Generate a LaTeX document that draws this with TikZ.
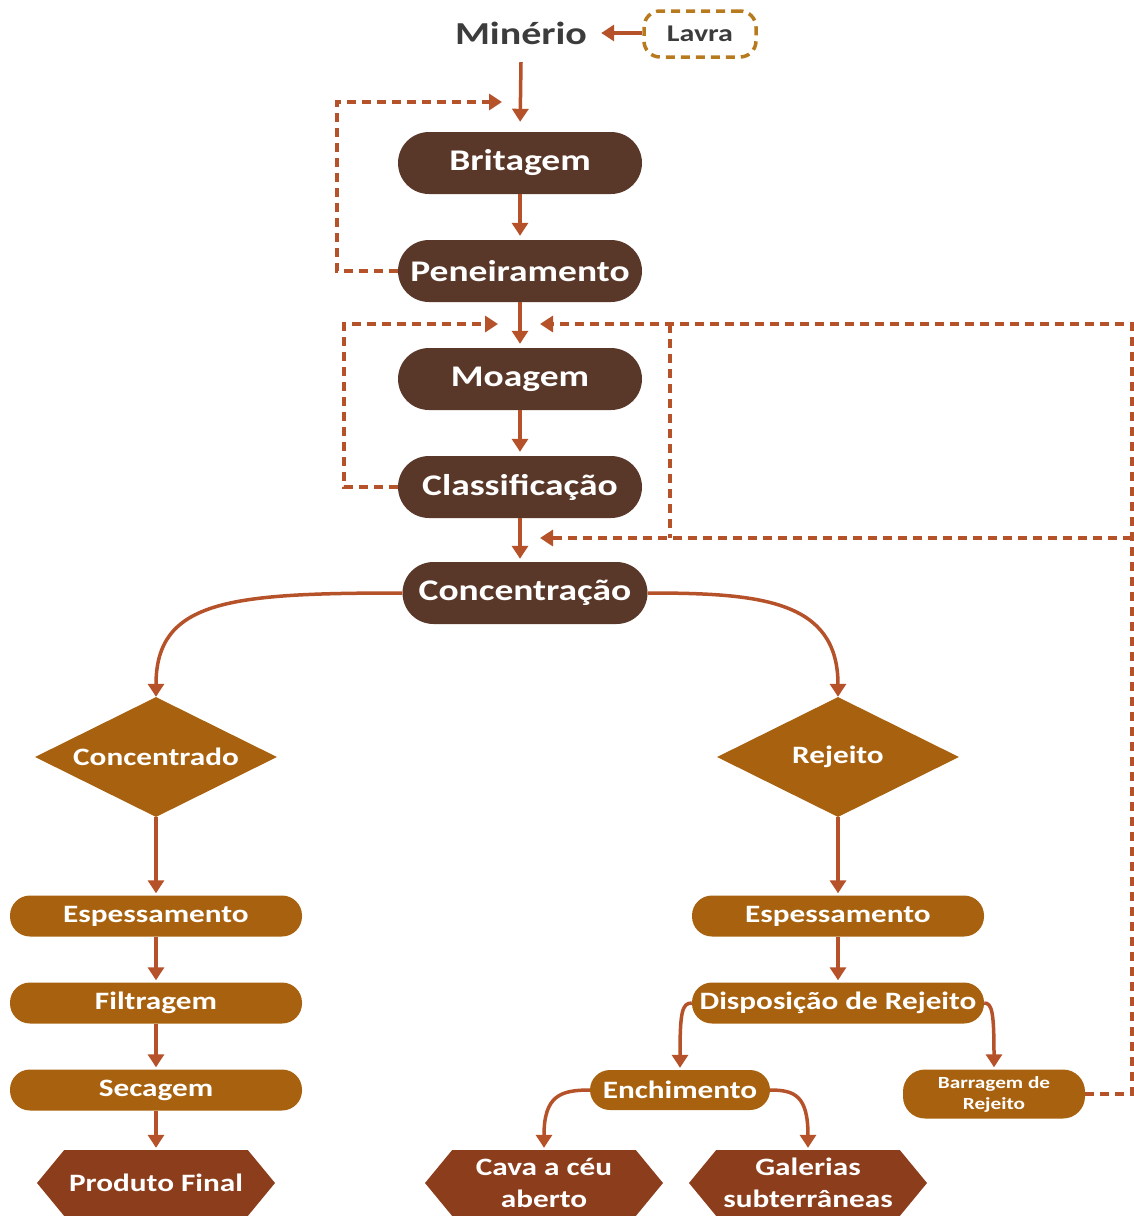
\documentclass[tikz,border=0pt]{standalone}
\usepackage{fontspec}
\setmainfont[FakeStretch=1.25]{Carlito}
\usetikzlibrary{shapes.geometric,shapes.symbols,arrows.meta}
\definecolor{dbrown}{HTML}{5A3829}
\definecolor{goldc}{HTML}{A8620F}
\definecolor{rustc}{HTML}{8C3E1C}
\definecolor{arrc}{HTML}{B5522A}
\definecolor{lavrac}{HTML}{B87A1E}
\definecolor{txtgray}{HTML}{3C3C3C}
\begin{document}
\begin{tikzpicture}[x=1pt,y=-1pt,
 every node/.style={text=white, inner sep=0pt},
 mainbox/.style={fill=dbrown, rectangle, rounded corners=31pt, minimum width=244pt, minimum height=62pt, font=\bfseries\fontsize{30}{34}\selectfont},
 goldbox/.style={fill=goldc, rectangle, rounded corners=20pt, minimum width=292pt, minimum height=41pt, font=\bfseries\fontsize{25}{28}\selectfont},
 decis/.style={fill=goldc, diamond, aspect=2, minimum width=242pt, minimum height=120pt, font=\bfseries\fontsize{25}{28}\selectfont},
 hexa/.style={fill=rustc, signal, signal to=west and east, signal pointer angle=101, minimum width=238pt, minimum height=66pt, align=center, font=\bfseries\fontsize{25}{32}\selectfont},
 flow/.style={draw=arrc, line width=3.5pt, -{Triangle[width=16pt,length=13pt]}},
 loopline/.style={draw=arrc, line width=3.5pt, dash pattern=on 9pt off 6pt},
 loop/.style={loopline, -{Triangle[width=16pt,length=13pt]}}
]
\useasboundingbox (0,0) rectangle (1134,1216);

% top
\node[text=txtgray, minimum width=160pt, minimum height=58pt, font=\bfseries\fontsize{32}{36}\selectfont] (min) at (521,33) {Minério};
\node[draw=lavrac, line width=3.5pt, dash pattern=on 9pt off 6pt, rounded corners=16pt, minimum width=112pt, minimum height=46pt, text=txtgray, font=\bfseries\fontsize{24}{28}\selectfont] (lavra) at (700,34) {Lavra};

% main chain
\node[mainbox] (brit) at (520,163) {Britagem};
\node[mainbox] (pen) at (520,271) {Peneiramento};
\node[mainbox] (moag) at (520,379) {Moagem};
\node[mainbox] (clas) at (520,487) {Classificação};
\node[mainbox, minimum width=245pt] (conc) at (525,593) {Concentração};

% decisions
\node[decis] (cdo) at (156,757) {Concentrado};
\node[decis] (rej) at (838,757) {Rejeito};

% left column
\node[goldbox] (esp1) at (156,916) {Espessamento};
\node[goldbox] (filt) at (156,1003) {Filtragem};
\node[goldbox] (sec) at (156,1090) {Secagem};
\node[hexa] (prod) at (156,1183) {Produto Final};

% right column
\node[goldbox] (esp2) at (838,916) {Espessamento};
\node[goldbox] (disp) at (838,1003) {Disposição de Rejeito};
\node[goldbox, minimum width=180pt, minimum height=40pt] (ench) at (680,1090) {Enchimento};
\node[goldbox, minimum width=182pt, minimum height=49pt, rounded corners=22pt, align=center, font=\bfseries\fontsize{17}{21}\selectfont] (barr) at (994,1094) {Barragem de\\Rejeito};
\node[hexa] (cava) at (544,1183) {Cava a céu\\aberto};
\node[hexa] (gal) at (808,1183) {Galerias\\subterrâneas};

% loop coordinates
\coordinate (c1) at (502,102);
\coordinate (l1b) at (337,271);
\coordinate (l1t) at (337,102);
\coordinate (c2) at (498,324);
\coordinate (l2b) at (344,487);
\coordinate (l2t) at (344,324);
\coordinate (c3) at (540,324);
\coordinate (c4) at (540,538);
\coordinate (rb) at (1132,1094);
\coordinate (rm) at (1132,538);
\coordinate (rt) at (1132,324);
\coordinate (vt) at (670,324);
\coordinate (vb) at (670,538);

% flows
\draw[flow] (lavra.west |- min.east) -- (min.east);
\draw[flow, shorten >=10pt] (min.south) -- (brit.north);
\draw[flow, shorten >=4pt] (brit.south) -- (pen.north);
\draw[flow, shorten >=4pt] (pen.south) -- (moag.north);
\draw[flow, shorten >=4pt] (moag.south) -- (clas.north);
\draw[flow, shorten >=3pt] (clas.south) -- (clas.south |- conc.north);

\draw[flow] (conc.west) .. controls (230,593) and (156,600) .. (cdo.north);
\draw[flow] (conc.east) .. controls (760,593) and (838,600) .. (rej.north);

\draw[flow, shorten >=2pt] (cdo.south) -- (esp1.north);
\draw[flow, shorten >=2pt] (esp1.south) -- (filt.north);
\draw[flow, shorten >=2pt] (filt.south) -- (sec.north);
\draw[flow, shorten >=2pt] (sec.south) -- (prod.north);

\draw[flow, shorten >=2pt] (rej.south) -- (esp2.north);
\draw[flow, shorten >=2pt] (esp2.south) -- (disp.north);
\draw[flow, shorten >=2pt] (disp.west) .. controls (682,1003) and (680,1012) .. (ench.north);
\draw[flow, shorten >=2pt] (disp.east) .. controls (992,1003) and (994,1012) .. (barr.north);
\draw[flow, shorten >=2pt] (ench.west) .. controls (560,1090) and (544,1096) .. (cava.north);
\draw[flow, shorten >=2pt] (ench.east) .. controls (795,1090) and (808,1096) .. (gal.north);

% dashed loops
\draw[loop] (pen.west) -- (l1b) -- (l1t) -- (c1);
\draw[loop] (clas.west) -- (l2b) -- (l2t) -- (c2);
\draw[loop] (barr.east) -- (rb) -- (rt) -- (c3);
\draw[loop] (rm) -- (c4);
\draw[loopline] (vt) -- (vb);
\end{tikzpicture}
\end{document}
